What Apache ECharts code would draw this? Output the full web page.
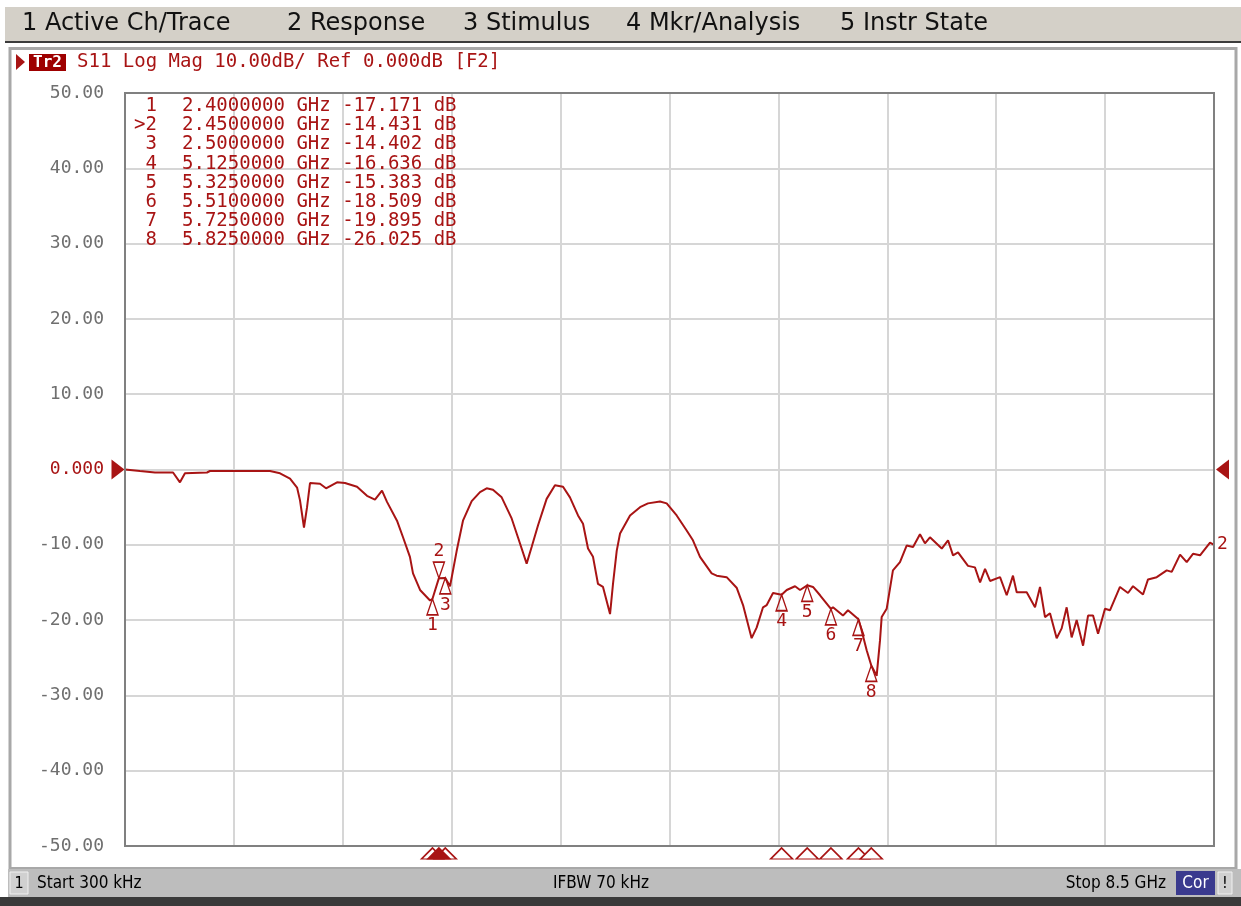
<!DOCTYPE html>
<html>
<head>
<meta charset="utf-8">
<title>S11 Log Mag</title>
<script src="https://cdn.jsdelivr.net/npm/echarts@6/dist/echarts.min.js"></script>
<style>
  html, body { margin: 0; padding: 0; background: #fff; }
  #chart { width: 1241px; height: 906px; }
</style>
</head>
<body>
<div id="chart"></div>
<script>
// trace 2, S11 log mag (GHz / dB)
var freqs = [0.0003, 0.117, 0.234, 0.375, 0.429, 0.468, 0.640, 0.663, 1.132, 1.210,
  1.288, 1.343, 1.366, 1.397, 1.421, 1.444, 1.522, 1.569, 1.655, 1.717,
  1.811, 1.889, 1.951, 2.006, 2.045, 2.123, 2.170, 2.224, 2.248, 2.303,
  2.381, 2.400, 2.450, 2.500, 2.537, 2.589, 2.638, 2.706, 2.771, 2.823,
  2.872, 2.940, 3.018, 3.067, 3.135, 3.174, 3.224, 3.291, 3.356, 3.419,
  3.473, 3.536, 3.575, 3.614, 3.653, 3.692, 3.731, 3.786, 3.809, 3.838,
  3.864, 3.942, 4.020, 4.082, 4.176, 4.228, 4.306, 4.384, 4.433, 4.488,
  4.579, 4.618, 4.696, 4.774, 4.824, 4.891, 4.930, 4.980, 5.009, 5.058,
  5.125, 5.165, 5.230, 5.269, 5.325, 5.370, 5.425, 5.510, 5.526, 5.604,
  5.643, 5.725, 5.750, 5.789, 5.825, 5.867, 5.893, 5.906, 5.945, 5.971,
  5.994, 6.049, 6.101, 6.151, 6.205, 6.244, 6.283, 6.375, 6.424, 6.463,
  6.502, 6.580, 6.634, 6.674, 6.713, 6.752, 6.830, 6.882, 6.931, 6.960,
  7.038, 7.103, 7.142, 7.181, 7.220, 7.272, 7.311, 7.350, 7.389, 7.428,
  7.478, 7.517, 7.556, 7.595, 7.649, 7.688, 7.766, 7.829, 7.868, 7.946,
  7.985, 8.053, 8.131, 8.170, 8.235, 8.287, 8.336, 8.391, 8.469, 8.500];
var s11 = [0.0, -0.2, -0.4, -0.4, -1.7, -0.5, -0.4, -0.2, -0.2, -0.5,
  -1.2, -2.4, -4.1, -7.7, -5.0, -1.8, -1.9, -2.5, -1.7, -1.8,
  -2.3, -3.5, -4.0, -2.8, -4.3, -6.8, -9.0, -11.6, -13.8, -16.0,
  -17.4, -17.171, -14.431, -14.402, -15.5, -10.8, -6.8, -4.2, -3.0, -2.5,
  -2.7, -3.7, -6.5, -9.0, -12.5, -10.3, -7.4, -3.9, -2.1, -2.3,
  -3.7, -6.1, -7.2, -10.5, -11.6, -15.2, -15.6, -19.2, -15.2, -10.8,
  -8.5, -6.1, -5.0, -4.5, -4.25, -4.5, -6.1, -8.1, -9.4, -11.6,
  -13.8, -14.1, -14.3, -15.7, -18.0, -22.4, -21.0, -18.3, -18.0, -16.4,
  -16.636, -16.0, -15.5, -16.0, -15.383, -15.6, -16.7, -18.509, -18.3, -19.4,
  -18.7, -19.895, -21.4, -24.0, -26.025, -27.4, -22.7, -19.6, -18.5, -15.8,
  -13.4, -12.3, -10.1, -10.3, -8.6, -9.8, -9.0, -10.5, -9.4, -11.4,
  -11.0, -12.8, -13.0, -15.0, -13.2, -14.8, -14.3, -16.7, -14.1, -16.3,
  -16.3, -18.3, -15.6, -19.6, -19.1, -22.4, -21.1, -18.3, -22.3, -20.0,
  -23.4, -19.4, -19.4, -21.8, -18.5, -18.7, -15.6, -16.4, -15.5, -16.6,
  -14.6, -14.3, -13.4, -13.6, -11.3, -12.3, -11.2, -11.4, -9.7, -10.0];

var markerNames = ["1", "2", "3", "4", "5", "6", "7", "8"];
var markerFreqs = [2.40, 2.45, 2.50, 5.125, 5.325, 5.51, 5.725, 5.825];
var markerVals = [-17.171, -14.431, -14.402, -16.636, -15.383, -18.509, -19.895, -26.025];
var activeMarker = "2";

var menuItems = ["1 Active Ch/Trace", "2 Response", "3 Stimulus", "4 Mkr/Analysis", "5 Instr State"];
var headerText = "S11 Log Mag 10.00dB/ Ref 0.000dB [F2]";
var statusStart = "Start 300 kHz";
var statusIfbw = "IFBW 70 kHz";
var statusStop = "Stop 8.5 GHz";

var RED = "#a81414";
var MONO = "DejaVu Sans Mono, monospace";
var COND = "DejaVu Sans Condensed, Liberation Sans Narrow, DejaVu Sans, sans-serif";

var chart = echarts.init(document.getElementById("chart"));

var menuX = [22, 287, 463, 626, 840];
var graphics = [
  { type: "rect", shape: { x: 5, y: 7, width: 1236, height: 35 }, style: { fill: "#d4d0c8" } },
  { type: "rect", shape: { x: 5, y: 41, width: 1236, height: 2 }, style: { fill: "#3c3c3c" } },
  { type: "rect", shape: { x: 10, y: 48.5, width: 1226, height: 820 }, style: { fill: null, stroke: "#a8a8a8", lineWidth: 3 } },
  { type: "rect", shape: { x: 8, y: 869, width: 1233, height: 28 }, style: { fill: "#bdbdbd" } },
  { type: "rect", shape: { x: 0, y: 897, width: 1241, height: 9 }, style: { fill: "#3a3a3a" } },
  // plot frame, on top of the split lines
  { type: "rect", z: 50, shape: { x: 125, y: 93, width: 1089, height: 753 }, style: { fill: null, stroke: "#808080", lineWidth: 2 } },
  // status bar
  { type: "rect", shape: { x: 10, y: 872, width: 18, height: 22 }, style: { fill: "#d0d0d0", stroke: "#f0f0f0", lineWidth: 1 } },
  { type: "text", x: 19, y: 884, style: { text: "1", font: "16px " + COND, fill: "#000", align: "center", verticalAlign: "middle" } },
  { type: "text", x: 37, y: 884, style: { text: statusStart, font: "17px " + COND, fill: "#000", verticalAlign: "middle" } },
  { type: "text", x: 601, y: 884, style: { text: statusIfbw, font: "17px " + COND, fill: "#000", align: "center", verticalAlign: "middle" } },
  { type: "text", x: 1166, y: 884, style: { text: statusStop, font: "17px " + COND, fill: "#000", align: "right", verticalAlign: "middle" } },
  { type: "rect", shape: { x: 1176, y: 871, width: 39, height: 24 }, style: { fill: "#3a3a8e" } },
  { type: "text", x: 1195.5, y: 884, style: { text: "Cor", font: "17px " + COND, fill: "#fff", align: "center", verticalAlign: "middle" } },
  { type: "rect", shape: { x: 1218, y: 872, width: 14, height: 22 }, style: { fill: "#d0d0d0", stroke: "#f0f0f0", lineWidth: 1 } },
  { type: "text", x: 1225, y: 884, style: { text: "!", font: "16px " + COND, fill: "#000", align: "center", verticalAlign: "middle" } },
  // trace header
  { type: "polygon", shape: { points: [[16, 54], [25, 62], [16, 70]] }, style: { fill: RED } },
  { type: "rect", shape: { x: 29, y: 54, width: 37, height: 17 }, style: { fill: "#9e0000" } },
  { type: "text", x: 47.5, y: 62.5, style: { text: "Tr2", font: "bold 16px " + MONO, fill: "#fff", align: "center", verticalAlign: "middle" } },
  { type: "text", x: 77, y: 62, style: { text: headerText, font: "19px " + MONO, fill: RED, verticalAlign: "middle" } }
];
menuItems.forEach(function (m, i) {
  graphics.push({ type: "text", x: menuX[i], y: 24, style: { text: m, font: "24px DejaVu Sans, sans-serif", fill: "#111", verticalAlign: "middle" } });
});
// marker readout table, drawn above the grid lines
markerNames.forEach(function (n, i) {
  var y = 106 + i * 19.2;
  graphics.push({ type: "text", z: 100, x: 157, y: y, style: { text: (n === activeMarker ? ">" : "") + n, font: "19px " + MONO, fill: RED, align: "right", verticalAlign: "middle" } });
  graphics.push({ type: "text", z: 100, x: 182, y: y, style: { text: markerFreqs[i].toFixed(7) + " GHz " + markerVals[i].toFixed(3) + " dB", font: "19px " + MONO, fill: RED, verticalAlign: "middle" } });
});

var traceData = freqs.map(function (f, i) { return [f, s11[i]]; });

var markerData = markerNames.map(function (n, i) {
  var act = n === activeMarker;
  return {
    name: n,
    value: [markerFreqs[i], markerVals[i]],
    symbolRotate: act ? 180 : 0,
    symbolOffset: act ? [0, -8] : [0, 8],
    label: { position: act ? "top" : "bottom" }
  };
});

// triangles under the x axis, active one filled and drawn last
var axisMarks = [];
markerNames.forEach(function (n, i) {
  if (n !== activeMarker) axisMarks.push({ value: [markerFreqs[i], -50], itemStyle: { color: "#fff" } });
});
markerNames.forEach(function (n, i) {
  if (n === activeMarker) axisMarks.push({ value: [markerFreqs[i], -50], itemStyle: { color: RED } });
});

var option = {
  backgroundColor: "#fff",
  animation: false,
  graphic: graphics,
  grid: {
    left: 125, right: 27, top: 93, bottom: 60,
    show: false
  },
  xAxis: {
    type: "value", min: 0, max: 8.5, interval: 0.85,
    axisLine: { show: false }, axisTick: { show: false }, axisLabel: { show: false },
    splitLine: { show: true, lineStyle: { color: "#d6d6d6", width: 2 } }
  },
  yAxis: {
    type: "value", min: -50, max: 50, interval: 10,
    axisLine: { show: false }, axisTick: { show: false },
    splitLine: { show: true, lineStyle: { color: "#d6d6d6", width: 2 } },
    axisLabel: {
      margin: 21, fontFamily: MONO, fontSize: 18, color: "#6f6f6f",
      formatter: function (v) { return v === 0 ? "{r|0.000}" : v.toFixed(2); },
      rich: { r: { color: RED, fontFamily: MONO, fontSize: 18 } }
    }
  },
  series: [
    {
      type: "line", data: traceData, symbol: "none", z: 3,
      lineStyle: { color: RED, width: 2 },
      endLabel: { show: true, formatter: "2", color: RED, fontFamily: MONO, fontSize: 18, distance: 3 },
      markPoint: {
        symbol: "triangle", symbolSize: [20, 13],
        itemStyle: { color: RED }, label: { show: false },
        data: [
          { coord: [0, 0], symbolRotate: -90, symbolOffset: [-7, 0] },
          { coord: [8.5, 0], symbolRotate: 90, symbolOffset: [8.5, 0] }
        ]
      }
    },
    {
      type: "scatter", data: markerData, clip: false, z: 4,
      symbol: "triangle", symbolSize: [11, 16],
      itemStyle: { color: "rgba(255,255,255,0)", borderColor: RED, borderWidth: 1.5, opacity: 1 },
      label: { show: true, formatter: function (p) { return p.name; }, color: RED, fontFamily: MONO, fontSize: 18, distance: 1 }
    },
    {
      type: "scatter", data: axisMarks, clip: false, z: 4,
      symbol: "triangle", symbolSize: [22, 11], symbolOffset: [0, 7.5],
      itemStyle: { borderColor: RED, borderWidth: 1.5, opacity: 1 }
    }
  ]
};

chart.setOption(option);
</script>
</body>
</html>
